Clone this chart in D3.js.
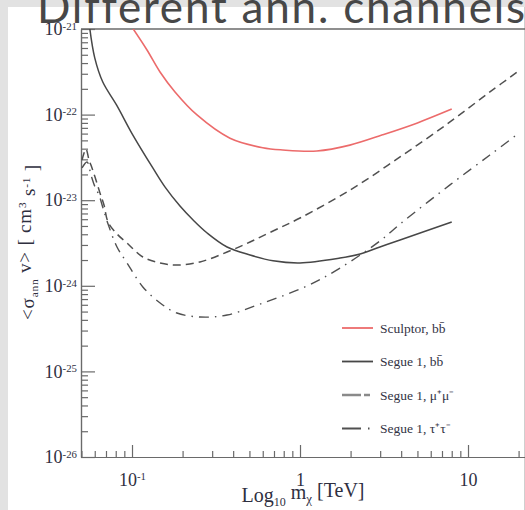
<!DOCTYPE html>
<html>
<head>
<meta charset="utf-8">
<script src="https://cdn.jsdelivr.net/npm/d3@7"></script>
<style>
  body { margin: 0; background: #e2e2e2; overflow: hidden; }
  svg { display: block; }
  .axis path, .axis line { stroke: #6a6a6a; stroke-width: 1.2; }
  .axis text { font-family: "Liberation Serif", "Times New Roman", serif; fill: #2f2f3f; }
</style>
</head>
<body>
<script>
// values: mass in TeV, <sigma v> in cm^3 s^-1

// Sculptor, b bbar
var sculptorMass  = [0.1, 0.1228, 0.1468, 0.1803, 0.2437, 0.383, 0.6, 0.79, 1.26, 1.98, 3.1, 5.0, 8.0];
var sculptorSigma = [1.05e-21, 5.69e-22, 3.15e-22, 1.84e-22, 9.9e-23, 5.3e-23, 4.1e-23, 3.86e-23, 3.76e-23, 4.4e-23, 5.8e-23, 8.0e-23, 1.16e-22];

// Segue 1, b bbar
var segueBBMass  = [0.056, 0.060, 0.067, 0.081, 0.101, 0.133, 0.157, 0.193, 0.231, 0.28, 0.368, 0.504, 0.691, 1.0, 1.73, 2.28, 2.99, 3.94, 8.0];
var segueBBSigma = [1.03e-21, 4.6e-22, 2.4e-22, 1.29e-22, 5.8e-23, 2.38e-23, 1.43e-23, 8.55e-24, 5.87e-24, 4.14e-24, 2.84e-24, 2.29e-24, 1.96e-24, 1.85e-24, 2.11e-24, 2.35e-24, 2.84e-24, 3.43e-24, 5.56e-24];

// Segue 1, mu+ mu-
var segueMuMass  = [0.0504, 0.0532, 0.0555, 0.0578, 0.061, 0.0645, 0.0681, 0.072, 0.0814, 0.0934, 0.116, 0.147, 0.185, 0.254, 0.368, 0.504, 0.691, 1.0, 1.98, 3.94, 7.81, 13.5, 20.4];
var segueMuSigma = [2.95e-23, 3.96e-23, 2.95e-23, 2.38e-23, 1.72e-23, 1.21e-23, 8.8e-24, 5.56e-24, 4.03e-24, 3.16e-24, 2.17e-24, 1.85e-24, 1.75e-24, 1.9e-24, 2.48e-24, 3.25e-24, 4.37e-24, 6.19e-24, 1.31e-23, 3.2e-23, 8.2e-23, 1.84e-22, 3.32e-22];

// Segue 1, tau+ tau-
var segueTauMass  = [0.0504, 0.054, 0.057, 0.0602, 0.0636, 0.0672, 0.072, 0.0814, 0.0934, 0.116, 0.147, 0.185, 0.254, 0.368, 0.578, 1.10, 1.73, 2.99, 3.94, 7.81, 13.5, 19.05];
var segueTauSigma = [2.38e-23, 2.79e-23, 1.97e-23, 1.43e-23, 1.15e-23, 8.1e-24, 5.27e-24, 2.84e-24, 1.85e-24, 9.7e-25, 6.3e-25, 4.81e-25, 4.32e-25, 4.56e-25, 6.12e-25, 9.95e-25, 1.61e-24, 3.34e-24, 5.27e-24, 1.51e-23, 3.37e-23, 5.62e-23];

var legendLabels = ['Sculptor, bb\u0304', 'Segue 1, bb\u0304', 'Segue 1, \u03bc\u207a\u03bc\u207b', 'Segue 1, \u03c4\u207a\u03c4\u207b'];
var xTicks = [0.1, 1, 10];
var yTicks = [1e-26, 1e-25, 1e-24, 1e-23, 1e-22, 1e-21];

var width = 525;
var height = 510;
var plotLeft = 81, plotTop = 29, plotBottom = 457;

// line styles, one per series
var series = [
    {mass: sculptorMass, sigma: sculptorSigma, color: '#ec6b6b', dash: null, legendDash: null, w: 1.6},
    {mass: segueBBMass, sigma: segueBBSigma, color: '#474747', dash: null, legendDash: null, w: 1.5},
    {mass: segueMuMass, sigma: segueMuSigma, color: '#505050', dash: '8,5', legendDash: '19,3,6,20', w: 1.5},
    {mass: segueTauMass, sigma: segueTauSigma, color: '#505050', dash: '10,6,1.5,6', legendDash: '19,7,1.5,20', w: 1.4}
];

var svg = d3.select('body').append('svg')
    .attr('width', width)
    .attr('height', height);

// slide panel
svg.append('rect')
    .attr('x', 8).attr('y', 7)
    .attr('width', 516).attr('height', height - 7)
    .attr('fill', '#fff');
svg.append('line')
    .attr('x1', 524.5).attr('x2', 524.5)
    .attr('y1', 7).attr('y2', height)
    .attr('stroke', '#cfcfcf');

// 168 px per decade, 1 TeV at x=300
var x = d3.scaleLog()
    .domain([0.0497, 30])
    .range([plotLeft, plotLeft + 168 * Math.log10(30 / 0.0497)]);

var y = d3.scaleLog()
    .domain([1e-26, 1e-21])
    .range([plotBottom, plotTop]);

function isDecade(d) { return Math.abs(Math.log10(d) - Math.round(Math.log10(d))) < 1e-6; }

function powerLabel(sel, plain) {
    sel.each(function(d) {
        var e = Math.round(Math.log10(d));
        var t = d3.select(this).text('');
        if (plain && e === 0) { t.text('1'); return; }
        if (plain && e === 1) { t.text('10'); return; }
        t.append('tspan').text('10');
        t.append('tspan')
            .attr('dy', '-0.5em')
            .attr('font-size', '0.6em')
            .text(e);
    });
}

// minor ticks
svg.append('g').attr('class', 'axis')
    .attr('transform', 'translate(0,' + plotBottom + ')')
    .call(d3.axisBottom(x).tickValues(x.ticks().filter(function(d) { return !isDecade(d); }))
        .tickSize(-6).tickSizeOuter(0).tickFormat(''));
svg.append('g').attr('class', 'axis')
    .attr('transform', 'translate(' + plotLeft + ',0)')
    .call(d3.axisLeft(y).tickValues(y.ticks().filter(function(d) { return !isDecade(d); }))
        .tickSize(-7).tickSizeOuter(0).tickFormat(''));

// major ticks + labels
var gx = svg.append('g').attr('class', 'axis')
    .attr('transform', 'translate(0,' + plotBottom + ')')
    .call(d3.axisBottom(x).tickValues(xTicks).tickSize(-12).tickSizeOuter(0).tickPadding(16));
gx.selectAll('text').style('font-size', '18px');
powerLabel(gx.selectAll('.tick text'), true);

var gy = svg.append('g').attr('class', 'axis')
    .attr('transform', 'translate(' + plotLeft + ',0)')
    .call(d3.axisLeft(y).tickValues(yTicks).tickSize(-14).tickSizeOuter(0).tickPadding(4));
gy.selectAll('text').style('font-size', '18px');
powerLabel(gy.selectAll('.tick text'), false);

// top frame
svg.append('line')
    .attr('x1', plotLeft).attr('x2', width)
    .attr('y1', plotTop).attr('y2', plotTop)
    .attr('stroke', '#6a6a6a').attr('stroke-width', 1.6);

// curves
svg.append('clipPath').attr('id', 'plot')
    .append('rect')
    .attr('x', plotLeft).attr('y', plotTop)
    .attr('width', width - plotLeft).attr('height', plotBottom - plotTop);

var line = d3.line()
    .x(function(d) { return x(d[0]); })
    .y(function(d) { return y(d[1]); })
    .curve(d3.curveCatmullRom.alpha(0.5));

svg.append('g').attr('clip-path', 'url(#plot)')
    .selectAll('path')
    .data(series)
    .enter().append('path')
    .attr('d', function(s) { return line(d3.zip(s.mass, s.sigma)); })
    .attr('fill', 'none')
    .attr('stroke', function(s) { return s.color; })
    .attr('stroke-width', function(s) { return s.w; })
    .attr('stroke-dasharray', function(s) { return s.dash; });

// legend
var legend = svg.append('g')
    .selectAll('g')
    .data(series)
    .enter().append('g')
    .attr('transform', function(s, i) { return 'translate(342,' + (328 + i * 33.5) + ')'; });
legend.append('line')
    .attr('x1', 0).attr('x2', 31)
    .attr('stroke', function(s, i) { return i === 2 ? '#8a8a8a' : s.color; })
    .attr('stroke-width', function(s, i) { return i === 2 ? 2.4 : 1.8; })
    .attr('stroke-dasharray', function(s) { return s.legendDash; });
legend.append('text')
    .attr('x', 38)
    .attr('dy', '0.35em')
    .style('font-family', '"Liberation Serif", serif')
    .style('font-size', '13.5px')
    .attr('fill', '#333344')
    .text(function(s, i) { return legendLabels[i]; });

// axis titles
var xt = svg.append('text')
    .attr('x', 303).attr('y', 502)
    .attr('text-anchor', 'middle')
    .style('font-family', '"Liberation Serif", serif')
    .style('font-size', '20px')
    .attr('fill', '#2f2f3f');
xt.append('tspan').text('Log');
xt.append('tspan').attr('dy', '0.35em').attr('font-size', '0.6em').text('10');
xt.append('tspan').attr('dy', '-0.35em').text(' m');
xt.append('tspan').attr('dy', '0.3em').attr('font-size', '0.65em').text('\u03c7');
xt.append('tspan').attr('dy', '-0.3em').text(' [TeV]');

var yt = svg.append('text')
    .attr('transform', 'translate(34,242) rotate(-90)')
    .attr('text-anchor', 'middle')
    .style('font-family', '"Liberation Serif", serif')
    .style('font-size', '19px')
    .style('letter-spacing', '0.8px')
    .attr('fill', '#2f2f3f');
yt.append('tspan').text('<\u03c3');
yt.append('tspan').attr('dy', '0.35em').attr('font-size', '0.6em').text('ann');
yt.append('tspan').attr('dy', '-0.35em').text(' v> [ cm');
yt.append('tspan').attr('dy', '-0.45em').attr('font-size', '0.6em').text('3');
yt.append('tspan').attr('dy', '0.45em').text(' s');
yt.append('tspan').attr('dy', '-0.45em').attr('font-size', '0.6em').text('-1');
yt.append('tspan').attr('dy', '0.45em').text(' ]');

// slide title, cut by the top edge
svg.append('text')
    .attr('x', 37).attr('y', 23)
    .style('font-family', 'Lato, "Open Sans", sans-serif')
    .style('font-size', '44px')
    .style('letter-spacing', '1.8px')
    .attr('fill', '#474747')
    .text('Different ann. channels');
</script>
</body>
</html>
